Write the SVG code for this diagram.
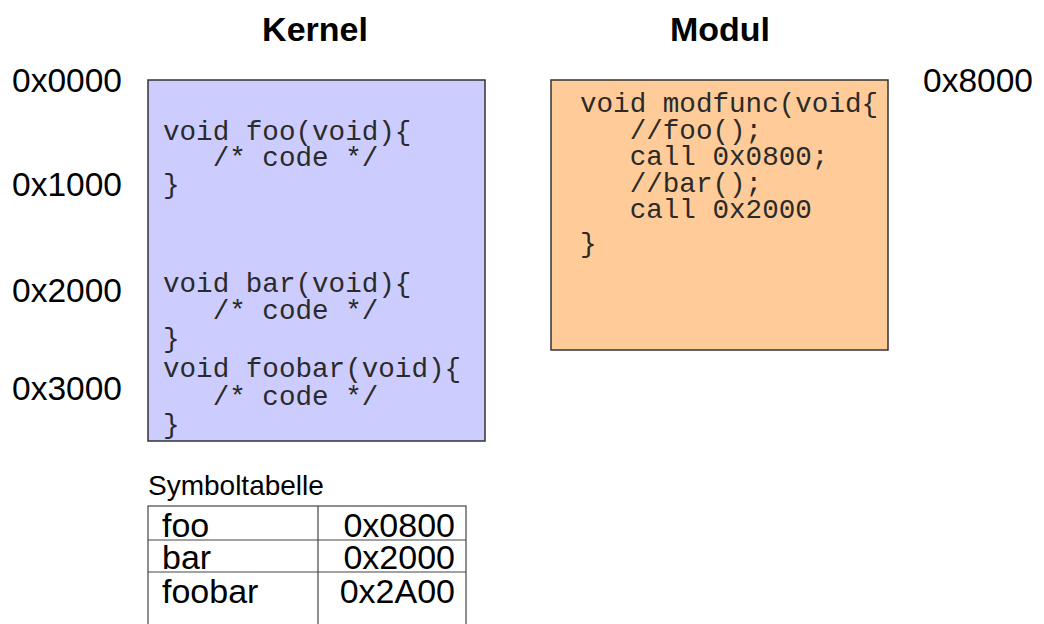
<svg xmlns="http://www.w3.org/2000/svg" width="1044" height="624" viewBox="0 0 1044 624">
<style>
.lbl{font-family:"Liberation Sans",Arial,sans-serif;font-size:33.5px;fill:#000}
.tb{font-family:"Liberation Sans",Arial,sans-serif;font-size:34px;fill:#000}
.ttl{font-family:"Liberation Sans",Arial,sans-serif;font-size:34px;font-weight:bold;fill:#000}
.code{font-family:"Liberation Mono","Courier New",monospace;font-size:27.6px;fill:#2a2a2a}
.box{stroke:#333;stroke-width:1.5}
.tbl{fill:none;stroke:#444;stroke-width:1.2}
</style>
<rect width="1044" height="624" fill="#fff"/>
<g id="titles">
<text class="ttl" x="315" y="41" text-anchor="middle">Kernel</text>
<text class="ttl" x="720" y="41" text-anchor="middle">Modul</text>
</g>
<g id="addresses">
<text class="lbl" x="12" y="92">0x0000</text>
<text class="lbl" x="12" y="196">0x1000</text>
<text class="lbl" x="12" y="302">0x2000</text>
<text class="lbl" x="12" y="400">0x3000</text>
<text class="lbl" x="1033" y="92" text-anchor="end">0x8000</text>
</g>
<g id="kernel">
<rect class="box" x="148" y="80" width="337" height="361" fill="#ccccff"/>
<text class="code" xml:space="preserve"><tspan x="163" y="140">void foo(void){</tspan><tspan x="163" y="166">   /* code */</tspan><tspan x="163" y="193">}</tspan><tspan x="163" y="292">void bar(void){</tspan><tspan x="163" y="319">   /* code */</tspan><tspan x="163" y="347">}</tspan><tspan x="163" y="377">void foobar(void){</tspan><tspan x="163" y="405">   /* code */</tspan><tspan x="163" y="433">}</tspan></text>
</g>
<g id="modul">
<rect class="box" x="551" y="80" width="337" height="270" fill="#ffcc99"/>
<text class="code" xml:space="preserve"><tspan x="580" y="112">void modfunc(void{</tspan><tspan x="580" y="139">   //foo();</tspan><tspan x="580" y="165">   call 0x0800;</tspan><tspan x="580" y="192">   //bar();</tspan><tspan x="580" y="218">   call 0x2000</tspan><tspan x="580" y="252">}</tspan></text>
</g>
<g id="symboltabelle">
<text class="lbl" x="148" y="495" style="font-size:28px">Symboltabelle</text>
<rect class="tbl" x="148" y="506" width="318" height="130"/>
<line class="tbl" x1="148" y1="540" x2="466" y2="540"/>
<line class="tbl" x1="148" y1="572" x2="466" y2="572"/>
<line class="tbl" x1="318" y1="506" x2="318" y2="624"/>
<text class="tb" x="162" y="537">foo</text>
<text class="tb" x="162" y="569">bar</text>
<text class="tb" x="162" y="603">foobar</text>
<text class="tb" x="455" y="537" text-anchor="end">0x0800</text>
<text class="tb" x="455" y="569" text-anchor="end">0x2000</text>
<text class="tb" x="455" y="603" text-anchor="end">0x2A00</text>
</g>
<g id="connectors"/>
</svg>
